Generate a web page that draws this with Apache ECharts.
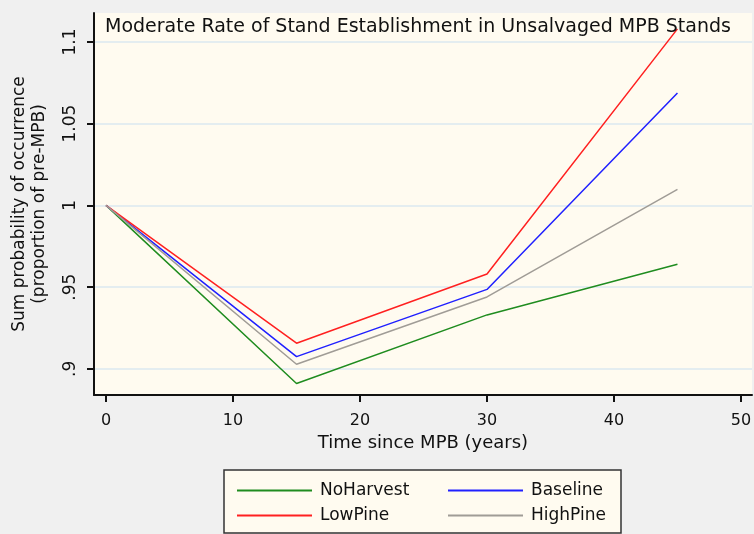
<!DOCTYPE html>
<html>
<head>
<meta charset="utf-8">
<script src="https://cdn.jsdelivr.net/npm/echarts@6/dist/echarts.min.js"></script>
<style>
  html, body { margin: 0; padding: 0; background: #f0f0f0; }
  #chart { width: 754px; height: 534px; }
</style>
</head>
<body>
<div id="chart"></div>
<script>
// years since MPB
var years = [0, 15, 30, 45];
// sum probability of occurrence, proportion of pre-MPB
var noHarvest = [1, 0.891, 0.933, 0.964];
var baseline = [1, 0.9075, 0.9486, 1.0687];
var lowPine = [1, 0.9157, 0.958, 1.108];
var highPine = [1, 0.9028, 0.944, 1.0098];
// tick labels
var xTicks = [0, 10, 20, 30, 40, 50];
var yTicks = [0.9, 0.95, 1, 1.05, 1.1];
var yTickText = ['.9', '.95', '1', '1.05', '1.1'];

function pairs(vals) {
  return years.map(function (x, i) { return [x, vals[i]]; });
}

var font = 'DejaVu Sans';
var chart = echarts.init(document.getElementById('chart'));

chart.setOption({
  backgroundColor: '#f0f0f0',
  animation: false,
  title: {
    text: 'Moderate Rate of Stand Establishment in Unsalvaged MPB Stands',
    left: 100,
    top: 13,
    textStyle: { fontFamily: font, fontSize: 19, fontWeight: 'normal', color: '#111' }
  },
  grid: {
    left: 94, right: 2, top: 13, bottom: 139,
    outerBoundsMode: 'none',
    containLabel: false,
    show: true, backgroundColor: '#fffbf0', borderWidth: 0
  },
  xAxis: {
    type: 'value',
    min: -0.95, max: 50.87,
    name: 'Time since MPB (years)',
    nameLocation: 'middle',
    nameGap: 38,
    nameTextStyle: { fontFamily: font, fontSize: 18, color: '#111' },
    axisLine: { show: true, onZero: false, lineStyle: { color: '#111', width: 2 } },
    axisTick: { show: true, length: 7, customValues: xTicks, lineStyle: { color: '#111', width: 2 } },
    axisLabel: { customValues: xTicks, fontFamily: font, fontSize: 16, color: '#111', margin: 18 },
    splitLine: { show: false }
  },
  yAxis: {
    type: 'value',
    min: 0.884, max: 1.1177,
    name: 'Sum probability of occurrence\n(proportion of pre-MPB)',
    nameLocation: 'middle',
    nameGap: 44,
    nameRotate: 90,
    nameTextStyle: { fontFamily: font, fontSize: 17, color: '#111', lineHeight: 20 },
    axisLine: { show: true, onZero: false, lineStyle: { color: '#111', width: 2 } },
    axisTick: { show: true, length: 7, customValues: yTicks, lineStyle: { color: '#111', width: 2 } },
    axisLabel: {
      customValues: yTicks,
      rotate: 90,
      margin: 15,
      fontFamily: font, fontSize: 17, color: '#111',
      formatter: function (v) {
        var i = yTicks.findIndex(function (t) { return Math.abs(t - v) < 1e-6; });
        return i >= 0 ? yTickText[i] : '';
      }
    },
    splitLine: { show: true, lineStyle: { color: '#e4edf0', width: 2 } }
  },
  legend: [
    {
      data: ['NoHarvest', 'LowPine'],
      orient: 'vertical',
      left: 232, top: 477,
      itemWidth: 75, itemHeight: 2, itemGap: 8,
      icon: 'rect',
      textStyle: { fontFamily: font, fontSize: 17, color: '#111', padding: [0, 0, 0, 3] }
    },
    {
      data: ['Baseline', 'HighPine'],
      orient: 'vertical',
      left: 443, top: 477,
      itemWidth: 75, itemHeight: 2, itemGap: 8,
      icon: 'rect',
      textStyle: { fontFamily: font, fontSize: 17, color: '#111', padding: [0, 0, 0, 3] }
    }
  ],
  graphic: [{
    type: 'rect',
    z: -1,
    shape: { x: 224, y: 470, width: 397, height: 63 },
    style: { fill: '#fffbf0', stroke: '#333', lineWidth: 1.5 }
  }],
  series: [
    { name: 'NoHarvest', type: 'line', data: pairs(noHarvest), showSymbol: false, color: '#1f8c1f', lineStyle: { width: 1.5 } },
    { name: 'Baseline', type: 'line', data: pairs(baseline), showSymbol: false, color: '#2020ff', lineStyle: { width: 1.5 } },
    { name: 'LowPine', type: 'line', data: pairs(lowPine), showSymbol: false, color: '#ff2020', lineStyle: { width: 1.5 } },
    { name: 'HighPine', type: 'line', data: pairs(highPine), showSymbol: false, color: '#a09c96', lineStyle: { width: 1.5 } }
  ]
});
</script>
</body>
</html>
